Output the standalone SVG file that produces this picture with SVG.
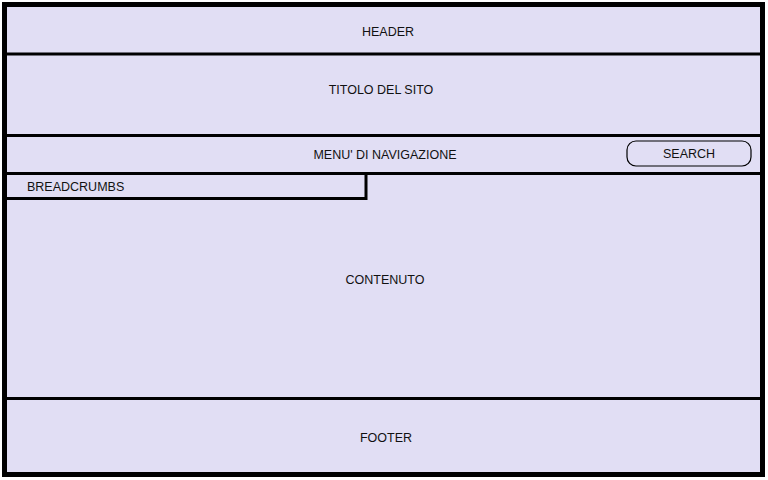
<svg xmlns="http://www.w3.org/2000/svg" width="768" height="480" viewBox="0 0 768 480">
<style>
.t{font-family:"Liberation Sans",Arial,sans-serif;font-size:12.5px;fill:#111;text-anchor:middle}
.sep{stroke:#000;stroke-width:3;fill:none}
</style>
<rect width="768" height="480" fill="#fff"/>
<g id="frame">
<rect x="4.5" y="4.5" width="758" height="470" fill="#E1DEF4" stroke="#000" stroke-width="5"/>
</g>
<g id="header">
<text class="t" x="388" y="36">HEADER</text>
</g>
<g id="titolo">
<line class="sep" x1="7" y1="54" x2="760" y2="54"/>
<text class="t" x="381" y="94">TITOLO DEL SITO</text>
</g>
<g id="menu">
<line class="sep" x1="7" y1="135.5" x2="760" y2="135.5"/>
<text class="t" x="385" y="159">MENU' DI NAVIGAZIONE</text>
</g>
<g id="search">
<rect x="627" y="141" width="124" height="25" rx="9" fill="none" stroke="#000" stroke-width="1.2"/>
<text class="t" x="689" y="158">SEARCH</text>
</g>
<g id="contenuto">
<line class="sep" x1="7" y1="173.5" x2="760" y2="173.5"/>
<text class="t" x="385" y="284">CONTENUTO</text>
</g>
<g id="breadcrumbs">
<polyline class="sep" points="7,198.5 366,198.5 366,173.5"/>
<text class="t" x="27" y="191" style="text-anchor:start">BREADCRUMBS</text>
</g>
<g id="footer">
<line class="sep" x1="7" y1="398.5" x2="760" y2="398.5"/>
<text class="t" x="386" y="442">FOOTER</text>
</g>
<g id="connectors"/>
</svg>
